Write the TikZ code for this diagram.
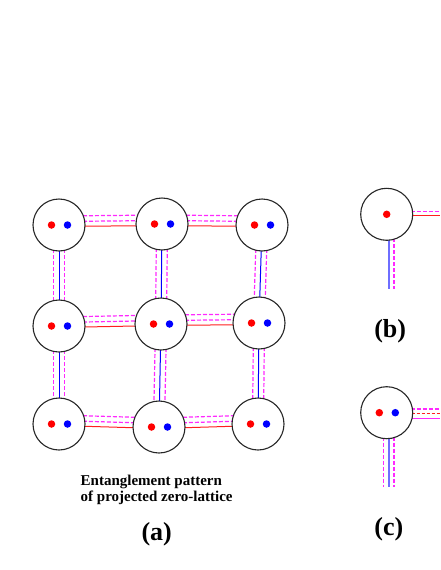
\documentclass[tikz,border=0pt]{standalone}
\usepackage{fontspec}
\setmainfont{Liberation Serif}
\usetikzlibrary{calc}
\pgfdeclarelayer{bg}
\pgfsetlayers{bg,main}
\definecolor{mag}{RGB}{255,40,255}
\definecolor{rd}{RGB}{255,30,30}
\definecolor{bl}{RGB}{0,0,255}
\definecolor{lbl}{RGB}{110,110,255}
\begin{document}
\begin{tikzpicture}[x=1pt,y=-1pt,
  site/.style={circle, draw=black!85, line width=1.1pt, fill=white, minimum size=52pt, inner sep=0pt},
  rdot/.style={circle, fill=red, minimum size=7.5pt, inner sep=0pt},
  bdot/.style={circle, fill=blue, minimum size=7.5pt, inner sep=0pt},
  redline/.style={rd, line width=1pt},
  reddash/.style={rd, line width=1pt, dash pattern=on 3pt off 2pt},
  blueline/.style={bl, line width=1pt},
  lightblue/.style={lbl, line width=1.3pt},
  magline/.style={mag, line width=1.1pt},
  magdash/.style={mag, line width=1.2pt, dash pattern=on 4pt off 2pt},
  lab/.style={font=\bfseries\fontsize{26}{28}\selectfont, inner sep=0pt, anchor=base}
]
\useasboundingbox (0,0) rectangle (440,570);

% ---- grid sites ----
\foreach \n/\x/\y in {11/59/225, 12/162/224, 13/262/225,
                      21/59/326, 22/161/324, 23/259/323,
                      31/59/424, 32/159/427, 33/258/424}{
  \node[site] (n\n) at (\x,\y) {};
  \node[rdot] (r\n) at (\x-7.5,\y) {};
  \node[bdot] (b\n) at (\x+8.5,\y) {};
}

\begin{pgfonlayer}{bg}
% horizontal links
\foreach \a/\b in {11/12, 12/13, 21/22, 22/23, 31/32, 32/33}{
  \draw[redline] ($(n\a)+(0,1.5)$) -- ($(n\b)+(0,1.5)$);
  \draw[magdash] ($(n\a)+(0,-3.5)$) -- ($(n\b)+(0,-3.5)$);
  \draw[magdash] ($(n\a)+(0,-9)$) -- ($(n\b)+(0,-9)$);
}
% vertical links
\foreach \a/\b in {11/21, 21/31, 12/22, 22/32, 13/23, 23/33}{
  \draw[blueline] ($(n\a)+(0,0)$) -- ($(n\b)+(0,0)$);
  \draw[magdash] ($(n\a)+(-5.5,0)$) -- ($(n\b)+(-5.5,0)$);
  \draw[magdash] ($(n\a)+(5.5,0)$) -- ($(n\b)+(5.5,0)$);
}
\end{pgfonlayer}

% ---- caption (a) ----
\node[anchor=north west, align=left, inner sep=0pt,
      font=\bfseries\fontsize{15}{15.8}\selectfont] (cap) at (80.5,475)
  {Entanglement pattern\\of projected zero-lattice};
\node[lab] (la) at (156.7,540) {(a)};

% ---- panel (b) ----
\node[site] (nb) at (386.7,214.3) {};
\node[rdot] (rb) at (386.7,214.3) {};
\coordinate (bR) at (440,214.3);
\coordinate (bD) at (386.7,289);
\begin{pgfonlayer}{bg}
  \draw[redline] ($(nb)+(0,1)$) -- ($(bR)+(0,1)$);
  \draw[magdash] ($(nb)+(0,-3)$) -- ($(bR)+(0,-3)$);
  \draw[lightblue] ($(nb)+(2.3,0)$) -- ($(bD)+(2.3,0)$);
  \draw[magdash] ($(nb)+(7.3,0)$) -- ($(bD)+(7.3,0)$);
\end{pgfonlayer}
\node[lab] (lb) at (390.2,337.5) {(b)};

% ---- panel (c) ----
\node[site] (nc) at (386.7,412.7) {};
\node[rdot] (rc) at (379.3,412.7) {};
\node[bdot] (bc) at (395.3,412.7) {};
\coordinate (cR) at (440,412.7);
\coordinate (cD) at (386.7,487);
\begin{pgfonlayer}{bg}
  \draw[magdash] ($(nc)+(0,-3.7)$) -- ($(cR)+(0,-3.7)$);
  \draw[reddash] ($(nc)+(0,0.6)$) -- ($(cR)+(0,0.6)$);
  \draw[magline] ($(nc)+(0,5.6)$) -- ($(cR)+(0,5.6)$);
  \draw[magdash] ($(nc)+(-3.4,0)$) -- ($(cD)+(-3.4,0)$);
  \draw[lightblue] ($(nc)+(2.3,0)$) -- ($(cD)+(2.3,0)$);
  \draw[magdash] ($(nc)+(7.3,0)$) -- ($(cD)+(7.3,0)$);
\end{pgfonlayer}
\node[lab] (lc) at (388.8,535) {(c)};
\end{tikzpicture}
\end{document}
